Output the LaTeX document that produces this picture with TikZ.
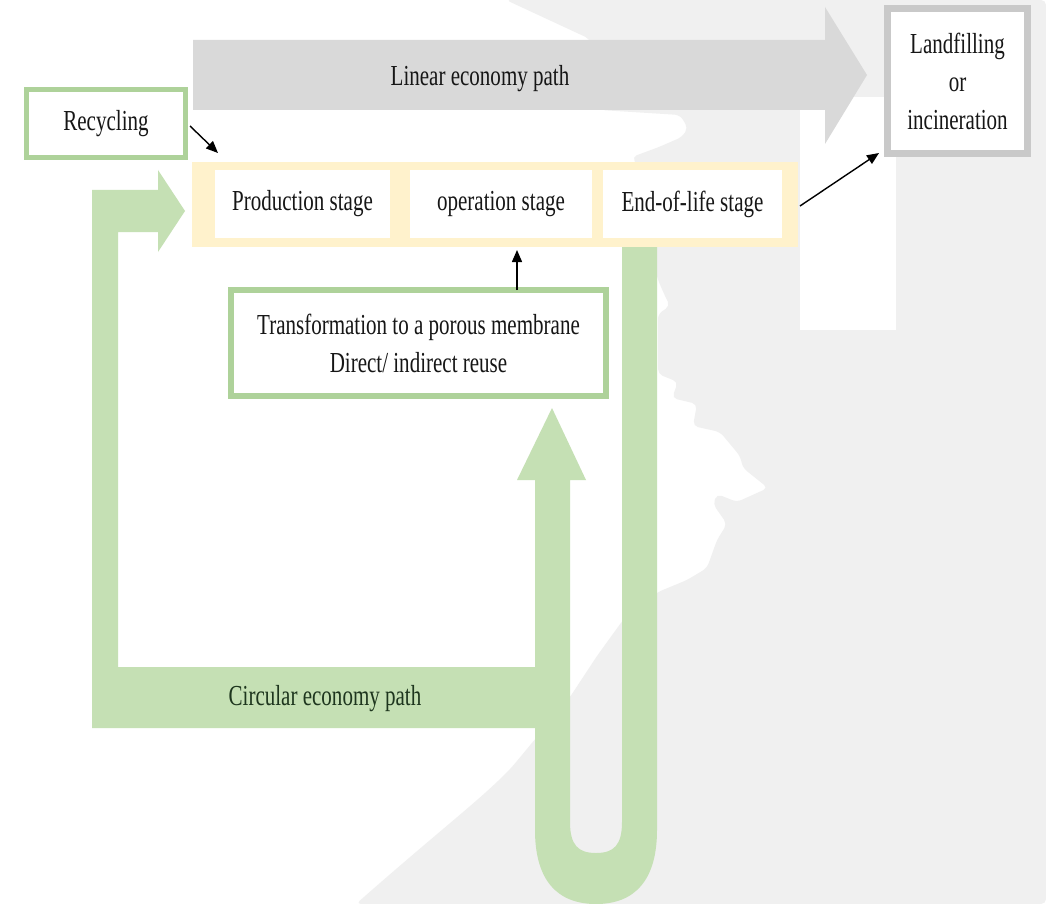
\documentclass[tikz,border=0pt]{standalone}
\usepackage{fontspec}
\setmainfont{Liberation Serif}[FakeStretch=0.725]
\usetikzlibrary{arrows.meta}
\definecolor{cgreen}{HTML}{C5E0B4}
\definecolor{bgreen}{HTML}{AED29A}
\definecolor{lgrey}{HTML}{D9D9D9}
\definecolor{wm}{HTML}{F0F0F0}
\definecolor{bandc}{HTML}{FFF2CC}
\definecolor{bgrey}{HTML}{C9C9C9}
\definecolor{txt}{HTML}{161616}
\definecolor{ctxt}{HTML}{1E361E}
\begin{document}
\begin{tikzpicture}[x=1pt,y=-1pt,
  lbl/.style={font=\fontsize{29}{38}\selectfont, text=txt, inner sep=0pt, align=center},
  greenbox/.style={draw=bgreen, line width=6pt, fill=white, inner sep=0pt},
  stagebox/.style={fill=white, minimum height=68pt, inner sep=0pt},
  conn/.style={-{Triangle[length=12pt,width=10pt]}, line width=1.4pt, black}]
\useasboundingbox (0,0) rectangle (1046,904);
\fill[white] (0,0) rectangle (1046,904);
% watermark
\fill[wm, rounded corners=5pt] (506,0) -- (1046,0) -- (1046,904) -- (356,904)
  .. controls (440,830) and (480,800) .. (512,767) -- (570,697) -- (597,656) -- (623,620)
  -- (658,592) -- (687,580) -- (707,568) -- (717,540) -- (727,524) -- (713,504) -- (717,494)
  -- (737,502) -- (768,488) -- (743,468) -- (740,456) -- (720,432) -- (693,426) -- (697,404)
  -- (672,398) -- (678,382) -- (658,374) -- (658,314) -- (670,306) -- (665,296) -- (658,280)
  -- (650,250) -- (640,170) -- (632,157) -- (659,147) -- (682,137) -- (688,128) -- (680,115)
  -- (600,110) -- (590,39) -- cycle;
\fill[white] (800,97) rectangle (896,330);
% linear economy arrow
\fill[lgrey] (193,40) -- (825,40) -- (825,7) -- (867,75) -- (825,144) -- (825,110) -- (193,110) -- cycle;
\node[lbl] (linear) at (480,79) {Linear economy path};
% landfilling
\node[lbl, draw=bgrey, line width=7pt, fill=white, minimum width=140pt, minimum height=145pt] (landfill) at (957.5,81) {Landfilling\\or\\incineration};
% recycling
\node[lbl, greenbox, line width=5pt, minimum width=159pt, minimum height=68pt] (recyc) at (106,123.5) {Recycling};
% stages band
\node[fill=bandc, minimum width=606pt, minimum height=85pt, inner sep=0pt] (band) at (495,204.5) {};
\node[lbl, stagebox, minimum width=175pt] (prod) at (302.5,204) {Production stage};
\node[lbl, stagebox, minimum width=182pt] (oper) at (501,204) {operation stage};
\node[lbl, stagebox, minimum width=179pt] (eol) at (692.5,204) {End-of-life stage};
% circular economy path
\fill[cgreen] (92,728) -- (92,190) -- (158,190) -- (158,170) -- (185,211) -- (158,252) -- (158,232)
  -- (118,232) -- (118,667) -- (535,667) -- (535,728) -- cycle;
\fill[cgreen] (622,247) -- (657,247) -- (657,830) .. controls (657,880) and (635,904) .. (596,904)
  .. controls (557,904) and (535,880) .. (535,830) -- (535,480) -- (517,480) -- (552,408)
  -- (586,480) -- (570,480) -- (570,822) .. controls (570,845) and (578,853) .. (596,853)
  .. controls (614,853) and (622,845) .. (622,822) -- cycle;
\node[lbl, text=ctxt] (circ) at (325,699) {Circular economy path};
% transformation box
\node[lbl, greenbox, minimum width=375pt, minimum height=106pt] (trans) at (418.5,343) {Transformation to a porous membrane\\Direct/ indirect reuse};
% connectors
\coordinate (r1) at (190,126);
\coordinate (r2) at (218,153);
\draw[conn] (r1) -- (r2);
\coordinate (e1) at (800,206);
\coordinate (e2) at (879,153);
\draw[conn] (e1) -- (e2);
\coordinate (t1) at (517,290);
\coordinate (t2) at (517,250);
\draw[conn] (t1) -- (t2);
\end{tikzpicture}
\end{document}
